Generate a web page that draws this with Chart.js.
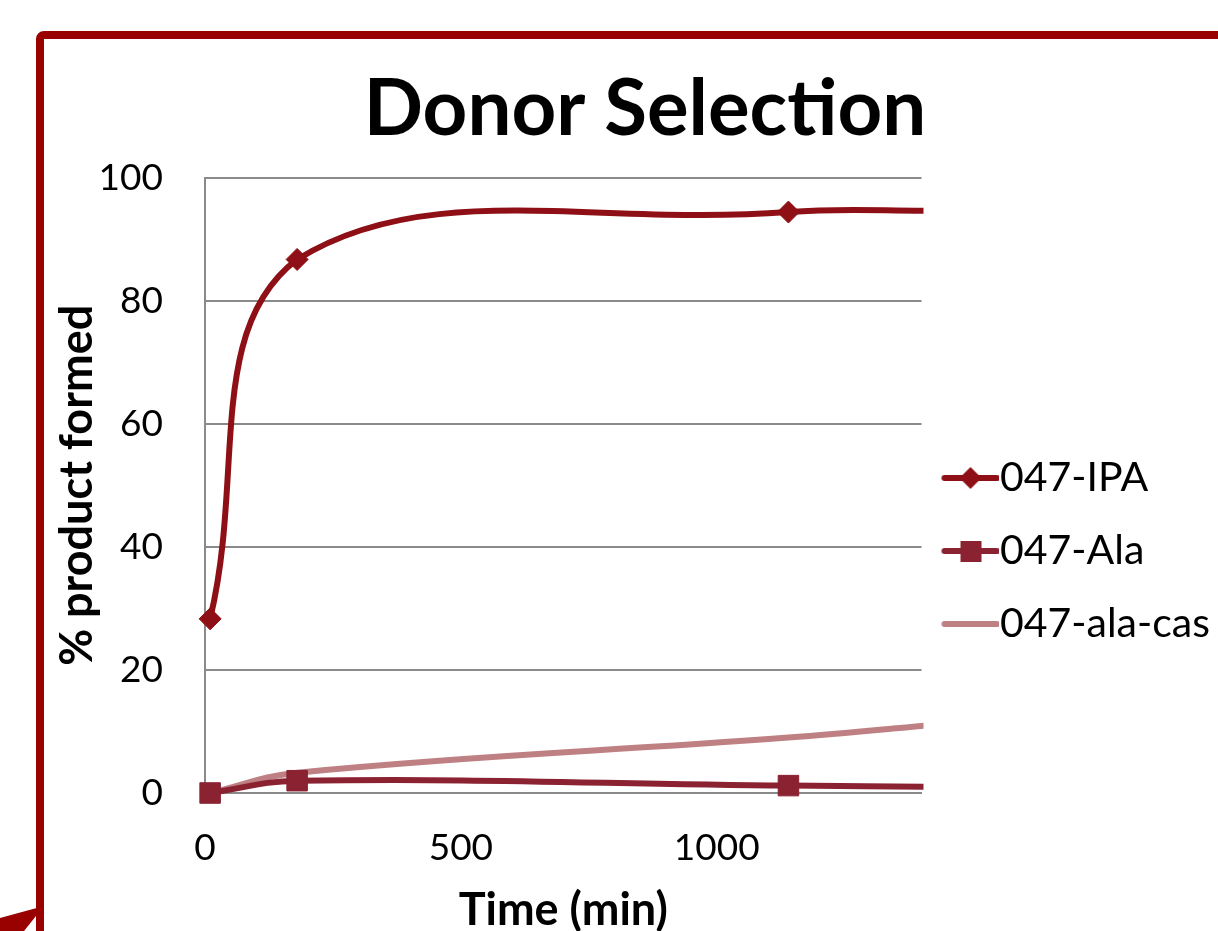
<!DOCTYPE html>
<html>
<head>
<meta charset="utf-8">
<script src="https://cdn.jsdelivr.net/npm/chart.js@4.4.1/dist/chart.umd.min.js"></script>
<style>
  html, body { margin: 0; padding: 0; background: #ffffff; width: 1218px; height: 931px; overflow: hidden; position: relative; }
  #frame { position: absolute; left: 36px; top: 31px; width: 1400px; height: 1100px; border: 8px solid #990000; border-radius: 8px; box-sizing: border-box; }
  #deco { position: absolute; left: 0; top: 896px; width: 46px; height: 35px; background: #990000; clip-path: polygon(0 22px, 44px 10px, 24px 35px, 0 35px); }
  #c { position: absolute; left: 0; top: 0; }
</style>
</head>
<body>
<div id="frame"></div>
<div id="deco"></div>
<canvas id="c" width="1300" height="931"></canvas>
<script>
// ---- data ----
const chartTitle = 'Donor Selection';
const xTitle = 'Time (min)';
const yTitle = '% product formed';
const seriesNames = ['047-IPA', '047-Ala', '047-ala-cas'];
const times = [10, 180, 1140, 1440];
const ipa = [28.3, 86.7, 94.4, 94.6];
const ala = [0, 2.0, 1.2, 1.0];
const alaCas = [0, 3.3, 9.0, 11.2];
const xTickValues = [0, 500, 1000];
const yTickValues = [0, 20, 40, 60, 80, 100];

// ---- styles ----
const colIPA = '#8E1016';
const colAla = '#8A2232';
const colCas = '#BF8084';

function pts(ys) { return times.map((t, i) => ({ x: t, y: ys[i] })); }

function legendImg(color, marker) {
  const c = document.createElement('canvas');
  c.width = 64; c.height = 26;
  const g = c.getContext('2d');
  g.strokeStyle = color; g.lineWidth = 6; g.lineCap = 'round';
  g.beginPath(); g.moveTo(10, 13); g.lineTo(62, 13); g.stroke();
  g.fillStyle = color;
  if (marker === 'diamond') {
    g.beginPath(); g.moveTo(36, 2); g.lineTo(47, 13); g.lineTo(36, 24); g.lineTo(25, 13); g.closePath(); g.fill();
  } else if (marker === 'square') {
    g.fillRect(26, 3, 21, 21);
  }
  return c;
}
const legendImgs = [legendImg(colIPA, 'diamond'), legendImg(colAla, 'square'), legendImg(colCas, null)];

Chart.defaults.font.family = 'Lato';
Chart.defaults.color = '#000000';

const titleShift = {
  id: 'titleShift',
  afterLayout(chart) {
    const t = chart.titleBlock;
    if (!t) return;
    const w = t.right - t.left;
    t.left = 645 - w / 2;
    t.right = 645 + w / 2;
  }
};

const clipBox = { left: 20, top: 20, right: 2, bottom: 20 };

new Chart(document.getElementById('c'), {
  type: 'line',
  data: {
    datasets: [
      { label: seriesNames[0], data: pts(ipa), borderColor: colIPA, backgroundColor: colIPA, borderWidth: 6,
        pointStyle: 'rectRot', pointRadius: 11, pointBorderWidth: 1, tension: 0.4, clip: clipBox },
      { label: seriesNames[1], data: pts(ala), borderColor: colAla, backgroundColor: colAla, borderWidth: 6,
        pointStyle: 'rect', pointRadius: 14.5, pointBorderWidth: 1, tension: 0.4, clip: clipBox },
      { label: seriesNames[2], data: pts(alaCas), borderColor: colCas, backgroundColor: colCas, borderWidth: 6,
        pointRadius: 0, tension: 0.4, clip: clipBox }
    ]
  },
  options: {
    responsive: false,
    animation: false,
    events: [],
    layout: { padding: { left: 50, right: 88, top: 0, bottom: 0 } },
    plugins: {
      title: {
        display: true, text: chartTitle, color: '#000',
        font: { family: 'Lato', size: 78, weight: 'bold' },
        padding: { top: 63, bottom: 21 }
      },
      legend: {
        position: 'right',
        title: { display: true, text: ' ', font: { size: 10 }, padding: { top: 159, bottom: 0 } },
        labels: {
          font: { family: 'Lato', size: 41 }, color: '#000', padding: 32,
          usePointStyle: true, pointStyleWidth: 26,
          generateLabels(chart) {
            const items = Chart.defaults.plugins.legend.labels.generateLabels(chart);
            items.forEach((it, i) => { it.pointStyle = legendImgs[i]; });
            return items;
          }
        }
      },
      tooltip: { enabled: false }
    },
    scales: {
      x: {
        type: 'linear', min: 0, max: 1400,
        afterBuildTicks(scale) { scale.ticks = xTickValues.map(v => ({ value: v })); },
        afterFit(scale) { scale.height = 138; },
        grid: { display: true, drawOnChartArea: false, drawTicks: false },
        border: { display: true, color: '#8A8A8A', width: 2 },
        ticks: { font: { size: 37 }, color: '#000', padding: 33, maxRotation: 0, callback: v => String(v) },
        title: { display: true, text: xTitle, font: { size: 45, weight: 'bold' }, color: '#000', padding: { top: 0, bottom: -6 } }
      },
      y: {
        min: 0, max: 100,
        afterBuildTicks(scale) { scale.ticks = yTickValues.map(v => ({ value: v })); },
        afterFit(scale) { scale.width = 155; },
        grid: { color: '#8A8A8A', lineWidth: 2, drawTicks: false },
        border: { display: true, color: '#8A8A8A', width: 2 },
        ticks: { font: { size: 37 }, color: '#000', padding: 42, callback: v => String(v) },
        title: { display: true, text: yTitle, font: { size: 45, weight: 'bold' }, color: '#000', padding: { top: 0, bottom: 0 } }
      }
    }
  },
  plugins: [titleShift]
});
</script>
</body>
</html>
